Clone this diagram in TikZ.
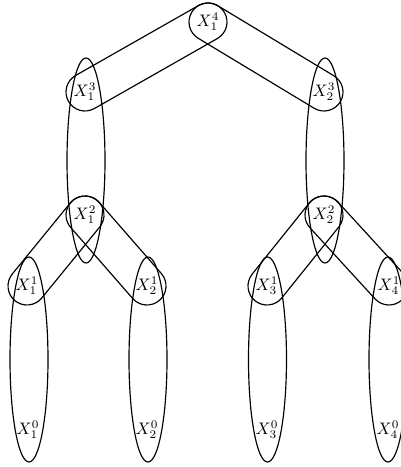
\documentclass[tikz,border=0pt]{standalone}
\usetikzlibrary{calc}

\newcommand{\edgerad}{11.4pt}
% closed loop round two labels
\newcommand{\hyperedge}[2]{%
  \draw[loopline] let \p1=($(#2.center)-(#1.center)$), \n1={atan2(\y1,\x1)} in
    ($(#1.center)+(\n1+90:\edgerad)$) -- ($(#2.center)+(\n1+90:\edgerad)$)
    arc[start angle=\n1+90, delta angle=-180, radius=\edgerad]
    -- ($(#1.center)+(\n1-90:\edgerad)$)
    arc[start angle=\n1-90, delta angle=-180, radius=\edgerad] -- cycle;}

\begin{document}
\begin{tikzpicture}[x=0.6pt, y=0.6pt,
    lbl/.style={inner sep=0pt},
    loopline/.style={line width=0.7pt},
    column/.style={line width=0.7pt}]
  \clip (0,0) rectangle (401,467);

  % Labels
  \node[lbl] (x14) at (208,445) {$X_1^4$};
  \node[lbl] (x13) at (85,375)  {$X_1^3$};
  \node[lbl] (x23) at (324,375) {$X_2^3$};
  \node[lbl] (x12) at (85,252)  {$X_1^2$};
  \node[lbl] (x22) at (324,252) {$X_2^2$};
  \node[lbl] (x11) at (27,181)  {$X_1^1$};
  \node[lbl] (x21) at (147,181) {$X_2^1$};
  \node[lbl] (x31) at (267,181) {$X_3^1$};
  \node[lbl] (x41) at (389,181) {$X_4^1$};
  \node[lbl] (x10) at (28,37)   {$X_1^0$};
  \node[lbl] (x20) at (147,37)  {$X_2^0$};
  \node[lbl] (x30) at (267,37)  {$X_3^0$};
  \node[lbl] (x40) at (388,37)  {$X_4^0$};

  % Slanted loops
  \hyperedge{x13}{x14}
  \hyperedge{x23}{x14}
  \hyperedge{x11}{x12}
  \hyperedge{x21}{x12}
  \hyperedge{x31}{x22}
  \hyperedge{x41}{x22}

  % Upright loops
  \draw[column] ($(x13)+(1,-68.5)$) ellipse [x radius=19, y radius=102.5];
  \draw[column] ($(x23)+(1,-68.5)$) ellipse [x radius=19, y radius=102.5];
  \draw[column] ($(x11)+(2,-73.5)$) ellipse [x radius=19, y radius=102.5];
  \draw[column] ($(x21)+(1,-73.5)$) ellipse [x radius=19, y radius=102.5];
  \draw[column] ($(x31)+(0.5,-73.5)$) ellipse [x radius=19, y radius=102.5];
  \draw[column] ($(x41)+(-1,-73.5)$) ellipse [x radius=19, y radius=102.5];
\end{tikzpicture}
\end{document}
